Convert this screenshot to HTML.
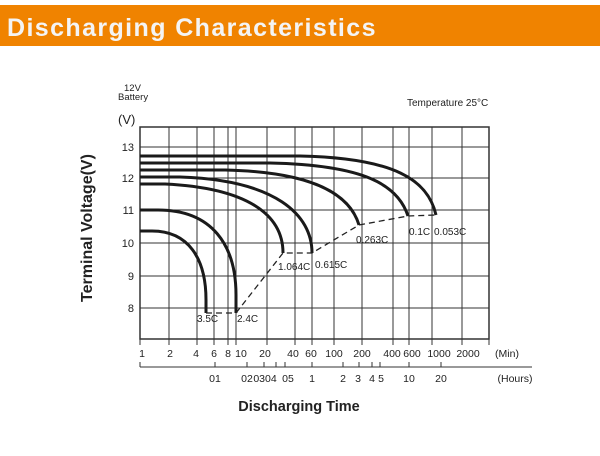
<!DOCTYPE html>
<html><head><meta charset="utf-8"><style>
body{margin:0;background:#fff;width:600px;height:451px;overflow:hidden}
</style></head><body>
<svg width="600" height="451" viewBox="0 0 600 451" xmlns="http://www.w3.org/2000/svg" font-family="Liberation Sans, sans-serif">
<rect x="0" y="5" width="600" height="41" fill="#f08300"/>
<text x="7" y="36" fill="#f4f4f4" font-size="25" font-weight="bold" letter-spacing="1.4">Discharging Characteristics</text>
<g fill="#222" font-size="9.5">
<text x="124" y="91">12V</text>
<text x="118" y="100">Battery</text>
</g>
<text x="407" y="106" font-size="10" fill="#222">Temperature 25°C</text>
<text x="118" y="124" font-size="13" fill="#222">(V)</text>
<g stroke="#333" stroke-width="1">
<line x1="169" y1="127" x2="169" y2="339"/><line x1="197" y1="127" x2="197" y2="339"/>
<line x1="214" y1="127" x2="214" y2="339"/><line x1="228" y1="127" x2="228" y2="339"/>
<line x1="236" y1="127" x2="236" y2="339"/><line x1="267" y1="127" x2="267" y2="339"/>
<line x1="295" y1="127" x2="295" y2="339"/><line x1="312" y1="127" x2="312" y2="339"/>
<line x1="334" y1="127" x2="334" y2="339"/><line x1="362" y1="127" x2="362" y2="339"/>
<line x1="393" y1="127" x2="393" y2="339"/><line x1="409" y1="127" x2="409" y2="339"/>
<line x1="432" y1="127" x2="432" y2="339"/><line x1="462" y1="127" x2="462" y2="339"/>
<line x1="140" y1="147" x2="489" y2="147"/><line x1="140" y1="178" x2="489" y2="178"/>
<line x1="140" y1="210" x2="489" y2="210"/><line x1="140" y1="243" x2="489" y2="243"/>
<line x1="140" y1="276" x2="489" y2="276"/><line x1="140" y1="308" x2="489" y2="308"/>
</g>
<rect x="140" y="127" width="349" height="212" fill="none" stroke="#333" stroke-width="1.5"/>
<g fill="#222" font-size="11" text-anchor="end">
<text x="134" y="151">13</text><text x="134" y="182">12</text><text x="134" y="214">11</text>
<text x="134" y="247">10</text><text x="134" y="280">9</text><text x="134" y="312">8</text>
</g>
<g fill="none" stroke="#1a1a1a" stroke-width="3">
<path d="M140,231 L152,231 C188,231 206,258 206,300 L206,313"/>
<path d="M140,210 L158,210 C212,210 236,245 236,295 L236,313"/>
<path d="M140,184 L165,184 C248,188 283,215 283,253"/>
<path d="M140,177 L180,177 C276,180 312,215 312,253"/>
<path d="M140,170 L225,170 C315,172 350,195 359,225"/>
<path d="M140,163 L270,163 C365,165 398,185 408,216"/>
<path d="M140,156 L300,156 C395,158 428,180 436,215"/>
</g>
<path d="M206,313 L236,313 L283,253 L312,253 L359,225 L408,216 L436,215" fill="none" stroke="#222" stroke-width="1.3" stroke-dasharray="6,4"/>
<g fill="#222" font-size="10">
<text x="197" y="322">3.5C</text><text x="237" y="322">2.4C</text>
<text x="278" y="270">1.064C</text><text x="315" y="268">0.615C</text>
<text x="356" y="243">0.263C</text><text x="409" y="235">0.1C</text><text x="434" y="235">0.053C</text>
</g>
<g stroke="#333" stroke-width="1">
<line x1="140" y1="339" x2="140" y2="345"/><line x1="169" y1="339" x2="169" y2="345"/>
<line x1="197" y1="339" x2="197" y2="345"/><line x1="214" y1="339" x2="214" y2="345"/>
<line x1="228" y1="339" x2="228" y2="345"/><line x1="236" y1="339" x2="236" y2="345"/>
<line x1="267" y1="339" x2="267" y2="345"/><line x1="295" y1="339" x2="295" y2="345"/>
<line x1="312" y1="339" x2="312" y2="345"/><line x1="334" y1="339" x2="334" y2="345"/>
<line x1="362" y1="339" x2="362" y2="345"/><line x1="393" y1="339" x2="393" y2="345"/>
<line x1="409" y1="339" x2="409" y2="345"/><line x1="432" y1="339" x2="432" y2="345"/>
<line x1="462" y1="339" x2="462" y2="345"/><line x1="489" y1="339" x2="489" y2="345"/>
</g>
<g fill="#222" font-size="10.5" text-anchor="middle">
<text x="142" y="357">1</text><text x="170" y="357">2</text><text x="196" y="357">4</text>
<text x="214" y="357">6</text><text x="228" y="357">8</text><text x="241" y="357">10</text>
<text x="265" y="357">20</text><text x="293" y="357">40</text><text x="311" y="357">60</text>
<text x="334" y="357">100</text><text x="362" y="357">200</text><text x="392" y="357">400</text>
<text x="412" y="357">600</text><text x="439" y="357">1000</text><text x="468" y="357">2000</text>
<text x="507" y="357">(Min)</text>
</g>
<g stroke="#333" stroke-width="1">
<line x1="140" y1="367" x2="532" y2="367"/>
<line x1="140" y1="362" x2="140" y2="367"/><line x1="215" y1="362" x2="215" y2="367"/>
<line x1="247" y1="362" x2="247" y2="367"/><line x1="264" y1="362" x2="264" y2="367"/>
<line x1="276" y1="362" x2="276" y2="367"/><line x1="285" y1="362" x2="285" y2="367"/>
<line x1="312" y1="362" x2="312" y2="367"/><line x1="343" y1="362" x2="343" y2="367"/>
<line x1="359" y1="362" x2="359" y2="367"/><line x1="372" y1="362" x2="372" y2="367"/>
<line x1="380" y1="362" x2="380" y2="367"/><line x1="409" y1="362" x2="409" y2="367"/>
<line x1="441" y1="362" x2="441" y2="367"/>
</g>
<g fill="#222" font-size="10.5" text-anchor="middle">
<text x="215" y="382">01</text><text x="247" y="382">02</text><text x="265" y="382">0304</text>
<text x="288" y="382">05</text><text x="312" y="382">1</text>
<text x="343" y="382">2</text><text x="358" y="382">3</text><text x="372" y="382">4</text>
<text x="381" y="382">5</text><text x="409" y="382">10</text><text x="441" y="382">20</text>
<text x="515" y="382">(Hours)</text>
</g>
<text x="299" y="411" font-size="14.5" font-weight="bold" fill="#222" text-anchor="middle">Discharging Time</text>
<text transform="translate(92,228) rotate(-90)" font-size="16" font-weight="bold" fill="#222" text-anchor="middle">Terminal Voltage(V)</text>
</svg>
</body></html>
